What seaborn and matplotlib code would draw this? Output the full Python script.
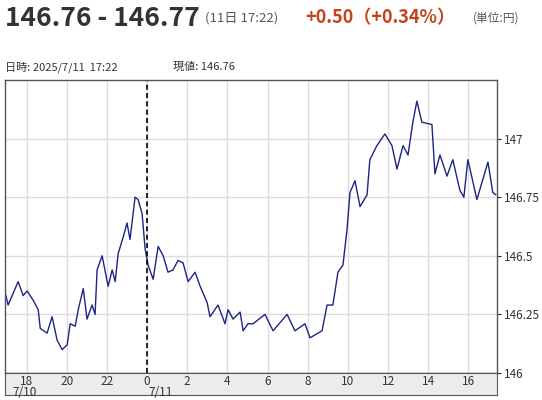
import numpy as np
import pandas as pd
import seaborn as sns
import matplotlib.pyplot as plt

# hours relative to 7/11 00:00, and the quote
hours = [-7.06, -6.92, -6.67, -6.42, -6.17, -5.97, -5.67, -5.42, -5.32, -4.98,
         -4.73, -4.48, -4.23, -3.98, -3.83, -3.58, -3.43, -3.18, -2.99, -2.74,
         -2.59, -2.49, -2.24, -1.94, -1.74, -1.59, -1.44, -1.19, -1.00, -0.85,
         -0.60, -0.45, -0.25, -0.10, 0.05, 0.30, 0.55, 0.80, 1.04, 1.29,
         1.54, 1.79, 2.04, 2.39, 2.64, 2.99, 3.13, 3.53, 3.88, 4.03,
         4.28, 4.63, 4.78, 5.02, 5.27, 5.87, 6.27, 6.97, 7.36, 7.86,
         8.11, 8.71, 8.96, 9.25, 9.50, 9.75, 9.95, 10.10, 10.35, 10.60,
         10.95, 11.09, 11.44, 11.84, 12.19, 12.44, 12.74, 12.99, 13.23, 13.43,
         13.68, 14.18, 14.33, 14.58, 14.93, 15.22, 15.57, 15.77, 15.97, 16.42,
         16.97, 17.21, 17.36]
price = [146.34, 146.29, 146.34, 146.39, 146.33, 146.35, 146.31, 146.27, 146.19, 146.17,
         146.24, 146.14, 146.10, 146.12, 146.21, 146.20, 146.27, 146.36, 146.23, 146.29,
         146.25, 146.44, 146.50, 146.37, 146.44, 146.39, 146.51, 146.58, 146.64, 146.57,
         146.75, 146.74, 146.68, 146.53, 146.46, 146.40, 146.54, 146.50, 146.43, 146.44,
         146.48, 146.47, 146.39, 146.43, 146.37, 146.30, 146.24, 146.29, 146.21, 146.27,
         146.23, 146.26, 146.18, 146.21, 146.21, 146.25, 146.18, 146.25, 146.18, 146.21,
         146.15, 146.18, 146.29, 146.29, 146.43, 146.46, 146.61, 146.77, 146.82, 146.71,
         146.76, 146.91, 146.97, 147.02, 146.97, 146.87, 146.97, 146.93, 147.07, 147.16,
         147.07, 147.06, 146.85, 146.93, 146.84, 146.91, 146.78, 146.75, 146.91, 146.74,
         146.90, 146.77, 146.76]
xticks = [-6, -4, -2, 0, 2, 4, 6, 8, 10, 12, 14, 16]
xlabels = ["18", "20", "22", "0", "2", "4", "6", "8", "10", "12", "14", "16"]
date_pos = [-6.1, 0.05]
date_labels = ["7/10", "7/11"]
yticks = [146, 146.25, 146.5, 146.75, 147]
ylabels = ["146", "146.25", "146.5", "146.75", "147"]

df = pd.DataFrame({"h": hours, "p": price})

sns.set_style("white")
plt.rcParams['font.family'] = ['Noto Sans CJK JP', 'DejaVu Sans']

W, H = 542, 400
fig = plt.figure(figsize=(W / 100, H / 100), dpi=100)
L, R, T, B = 4.5, 497, 80, 373
ax = fig.add_axes([L / W, 1 - B / H, (R - L) / W, (B - T) / H])
sx = fig.add_axes([L / W, 1 - 395 / H, (R - L) / W, 22 / H], sharex=ax)

sns.lineplot(data=df, x="h", y="p", ax=ax, color="#1c2584", linewidth=1.0)
ax.axvline(0, color="black", linestyle=(0, (3, 2)), linewidth=1.2)
ax.set_xlim(-7.1, 17.42)
ax.set_ylim(146, 147.25)
ax.set_xticks(xticks)
ax.set_yticks(yticks)
ax.grid(True, color="#dddddd", linewidth=1)
ax.yaxis.tick_right()
ax.set_yticklabels(ylabels, fontsize=8.5, color="#333333")
ax.tick_params(axis="x", labelbottom=False, length=0)
ax.tick_params(axis="y", length=3, pad=2)
ax.set_xlabel("")
ax.set_ylabel("")
for s in ax.spines.values():
    s.set_color("#555555")
    s.set_linewidth(1)

sx.set_facecolor("#ececec")
sx.set_yticks([])
sx.tick_params(axis="x", labelbottom=False, length=0)
tr = sx.get_xaxis_transform()
for x, lab in zip(xticks, xlabels):
    sx.text(x, 0.92, lab, ha="center", va="top", fontsize=8.5, color="#333333", transform=tr)
sx.text(date_pos[0], 0.42, date_labels[0], ha="center", va="top", fontsize=8.5,
        color="#333333", transform=tr)
sx.text(date_pos[1], 0.42, date_labels[1], ha="left", va="top", fontsize=8.5,
        color="#333333", transform=tr)
for s in sx.spines.values():
    s.set_color("#555555")

fig.text(5 / W, 1 - 18 / H, "146.76 - 146.77", fontsize=19, fontweight="bold",
         color="#333333", va="center")
fig.text(205 / W, 1 - 18 / H, "(11日 17:22)", fontsize=9.5, color="#555555", va="center")
fig.text(305 / W, 1 - 18 / H, "+0.50（+0.34%）", fontsize=13, fontweight="bold",
         color="#c4431a", va="center")
fig.text(473 / W, 1 - 18 / H, "(単位:円)", fontsize=8.5, color="#555555", va="center")
fig.text(5 / W, 1 - 67 / H, "日時: 2025/7/11  17:22", fontsize=8, color="#333333", va="center")
fig.text(173 / W, 1 - 67 / H, "現値: 146.76", fontsize=8, color="#333333", va="center")

fig.savefig("out.png", dpi=100)
